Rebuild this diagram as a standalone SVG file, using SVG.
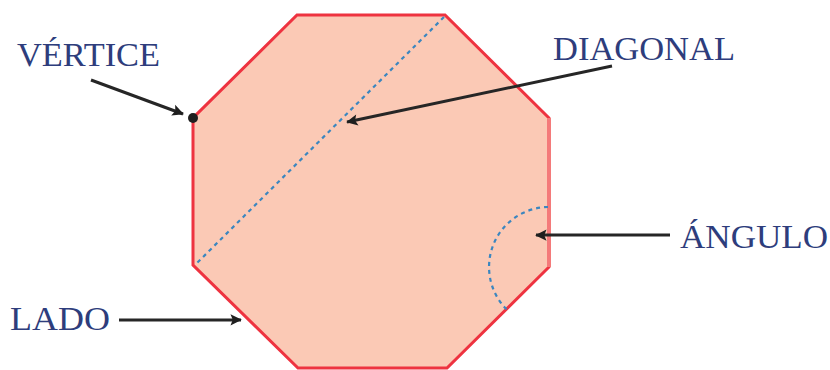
<svg xmlns="http://www.w3.org/2000/svg" width="830" height="370" viewBox="0 0 830 370">
<style>
.lbl{font-family:"Liberation Serif","Times New Roman",serif;font-size:33px;fill:#2e3d7c;}
.arr{stroke:#262626;stroke-width:3;fill:none;marker-end:url(#ah);}
.edge{stroke:#ee3340;stroke-width:3;fill:none;stroke-linecap:round;}
.blue{stroke:#3b86bf;stroke-width:2.2;fill:none;stroke-dasharray:4 4;}
</style>
<defs>
<marker id="ah" viewBox="0 0 10 10" refX="9" refY="5" markerWidth="6" markerHeight="6" orient="auto" markerUnits="userSpaceOnUse" style="overflow:visible">
<path d="M0,0 L10,5 L0,10 L2,5 Z" fill="#1f1f1f" transform="scale(1.9) translate(-4.5,-2.5)"/>
</marker>
</defs>
<g id="octagon">
<polygon points="297,15 445,15 549,118 549,267 447,368 298,368 193,265 193,118" fill="#fbc9b5"/>
<polyline class="edge" points="549,267 447,368 298,368 193,265 193,118 297,15 445,15 549,118"/>
<line x1="549" y1="118" x2="549" y2="267" stroke="#f47a7a" stroke-width="4"/>
</g>
<g id="diagonal">
<line class="blue" x1="444" y1="17" x2="195" y2="265"/>
</g>
<g id="angle">
<path class="blue" d="M548,207 A60,60 0 0 0 506.6,309.4"/>
</g>
<g id="vertex">
<circle cx="193" cy="118" r="5" fill="#1f1f1f"/>
</g>
<g id="connectors">
<line class="arr" x1="91" y1="80" x2="183" y2="114"/>
<line class="arr" x1="612" y1="66" x2="347" y2="122"/>
<line class="arr" x1="670" y1="235" x2="536" y2="235"/>
<line class="arr" x1="119" y1="320" x2="241" y2="320"/>
</g>
<g id="label-vertice"><text class="lbl" x="17" y="66" textLength="143" lengthAdjust="spacingAndGlyphs">VÉRTICE</text></g>
<g id="label-diagonal"><text class="lbl" x="553" y="60" textLength="182" lengthAdjust="spacingAndGlyphs">DIAGONAL</text></g>
<g id="label-angulo"><text class="lbl" x="680" y="248" textLength="148" lengthAdjust="spacingAndGlyphs">ÁNGULO</text></g>
<g id="label-lado"><text class="lbl" x="10" y="330" textLength="100" lengthAdjust="spacingAndGlyphs">LADO</text></g>
</svg>
